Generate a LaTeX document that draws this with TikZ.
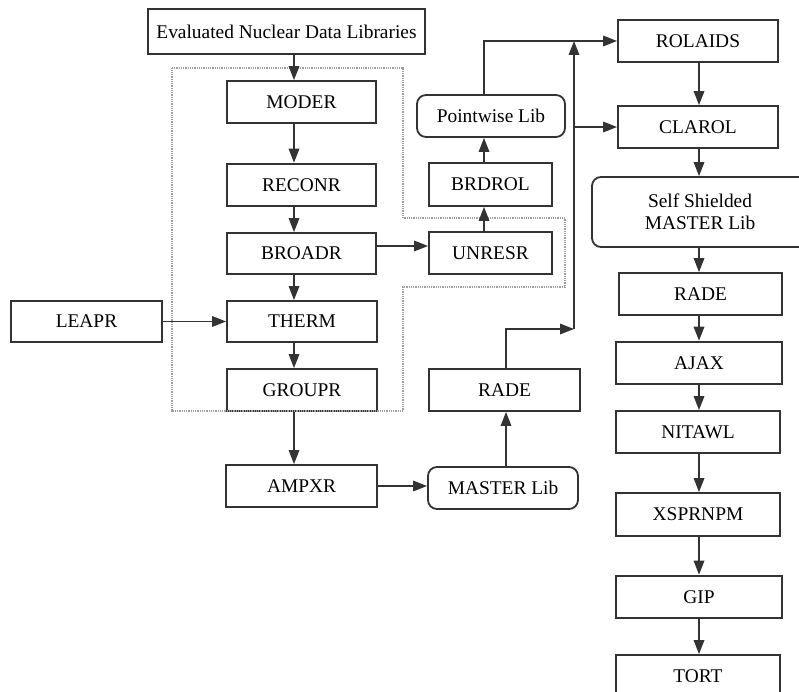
\documentclass[tikz,border=0pt]{standalone}
\usepackage{fontspec}
\setmainfont{Liberation Serif}
\usetikzlibrary{arrows.meta}
\definecolor{ln}{HTML}{333333}
\tikzset{
  x=1pt, y=-1pt,
  box/.style={draw=ln, line width=1.8pt, inner sep=0pt, align=center,
    font=\fontsize{19.4}{22}\selectfont, text=black},
  bold/.style={line width=2.6pt},
  rbox/.style={box, rounded corners=9pt},
  arr/.style={draw=ln, line width=1.7pt, -{Triangle[length=14pt,width=10.5pt]}},
  bound/.style={draw=gray!75, line width=1.3pt, dash pattern=on 1pt off 0.8pt}
}
\begin{document}
\begin{tikzpicture}
\clip (0,0) rectangle (799,692);
\fill[white] (0,0) rectangle (799,692);
% nodes
\node[box, minimum width=277pt, minimum height=45pt] (eval) at (286.5,31.5) {Evaluated Nuclear Data Libraries};
\node[box, minimum width=149pt, minimum height=42pt] (moder) at (301.5,102) {MODER};
\node[box, bold, minimum width=149pt, minimum height=42pt] (reconr) at (301.5,185) {RECONR};
\node[box, minimum width=149pt, minimum height=41pt] (broadr) at (301.5,253.5) {BROADR};
\node[box, minimum width=150pt, minimum height=41pt] (therm) at (302,321.5) {THERM};
\node[box, minimum width=150pt, minimum height=42pt] (groupr) at (302,390) {GROUPR};
\node[box, minimum width=151pt, minimum height=41pt] (leapr) at (86.5,321.5) {LEAPR};
\node[box, minimum width=151pt, minimum height=42pt] (ampxr) at (301.5,486) {AMPXR};
\node[rbox, minimum width=150pt, minimum height=42pt] (masterlib) at (503,488) {MASTER Lib};
\node[box, minimum width=151pt, minimum height=42pt] (rademid) at (504.5,390) {RADE};
\node[box, minimum width=123pt, minimum height=42pt] (unresr) at (490.5,253) {UNRESR};
\node[box, minimum width=123pt, minimum height=43pt] (brdrol) at (490.5,184.5) {BRDROL};
\node[rbox, minimum width=148pt, minimum height=42pt] (pointwise) at (491,116) {Pointwise Lib};
\node[box, minimum width=160pt, minimum height=42pt] (rolaids) at (698,41) {ROLAIDS};
\node[box, minimum width=160pt, minimum height=42pt] (clarol) at (698,127) {CLAROL};
\node[rbox, minimum width=216pt, minimum height=70pt] (selfsh) at (700,212) {Self Shielded\\MASTER Lib};
\node[box, minimum width=163pt, minimum height=42pt] (raderight) at (700.5,294) {RADE};
\node[box, bold, minimum width=166pt, minimum height=42pt] (ajax) at (699,363) {AJAX};
\node[box, minimum width=164pt, minimum height=42pt] (nitawl) at (698,432) {NITAWL};
\node[box, minimum width=164pt, minimum height=43pt] (xsprnpm) at (698,514.5) {XSPRNPM};
\node[box, bold, minimum width=166pt, minimum height=42pt] (gip) at (699,597) {GIP};
\node[box, minimum width=164pt, minimum height=42pt] (tort) at (698,676) {TORT};
% dotted boundary
\draw[bound] (172,68) -- (403,68) -- (403,218) -- (565,218) -- (565,287) -- (403,287) -- (403,411) -- (172,411) -- cycle;
% helper coordinates
\coordinate (cx) at (294,0);
\coordinate (ux) at (484,0);
\coordinate (mx) at (506,0);
\coordinate (rx) at (699,0);
\coordinate (by) at (0,246);
\coordinate (jn) at (574,329);
\coordinate (top) at (574,41);
\coordinate (br) at (574,127);
% left column
\draw[arr] (eval.south -| cx) -- (moder.north -| cx);
\draw[arr] (moder.south -| cx) -- (reconr.north -| cx);
\draw[arr] (reconr.south -| cx) -- (broadr.north -| cx);
\draw[arr] (broadr.south -| cx) -- (therm.north -| cx);
\draw[arr] (therm.south -| cx) -- (groupr.north -| cx);
\draw[arr] (groupr.south -| cx) -- (ampxr.north -| cx);
\draw[arr] (leapr.east) -- (therm.west);
\draw[arr] (broadr.east |- by) -- (unresr.west |- by);
\draw[arr] (ampxr.east) -- (masterlib.west |- ampxr.east);
% middle column
\draw[arr] (unresr.north -| ux) -- (brdrol.south -| ux);
\draw[arr] (brdrol.north -| ux) -- (pointwise.south -| ux);
\draw[arr] (pointwise.north -| ux) |- (rolaids.west);
\draw[arr] (masterlib.north -| mx) -- (rademid.south -| mx);
\draw[arr] (rademid.north -| mx) |- (jn);
\draw[arr] (jn) -- (top);
\draw[arr] (br) -- (clarol.west);
% right column
\draw[arr] (rolaids.south -| rx) -- (clarol.north -| rx);
\draw[arr] (clarol.south -| rx) -- (selfsh.north -| rx);
\draw[arr] (selfsh.south -| rx) -- (raderight.north -| rx);
\draw[arr] (raderight.south -| rx) -- (ajax.north -| rx);
\draw[arr] (ajax.south -| rx) -- (nitawl.north -| rx);
\draw[arr] (nitawl.south -| rx) -- (xsprnpm.north -| rx);
\draw[arr] (xsprnpm.south -| rx) -- (gip.north -| rx);
\draw[arr] (gip.south -| rx) -- (tort.north -| rx);
\end{tikzpicture}
\end{document}
